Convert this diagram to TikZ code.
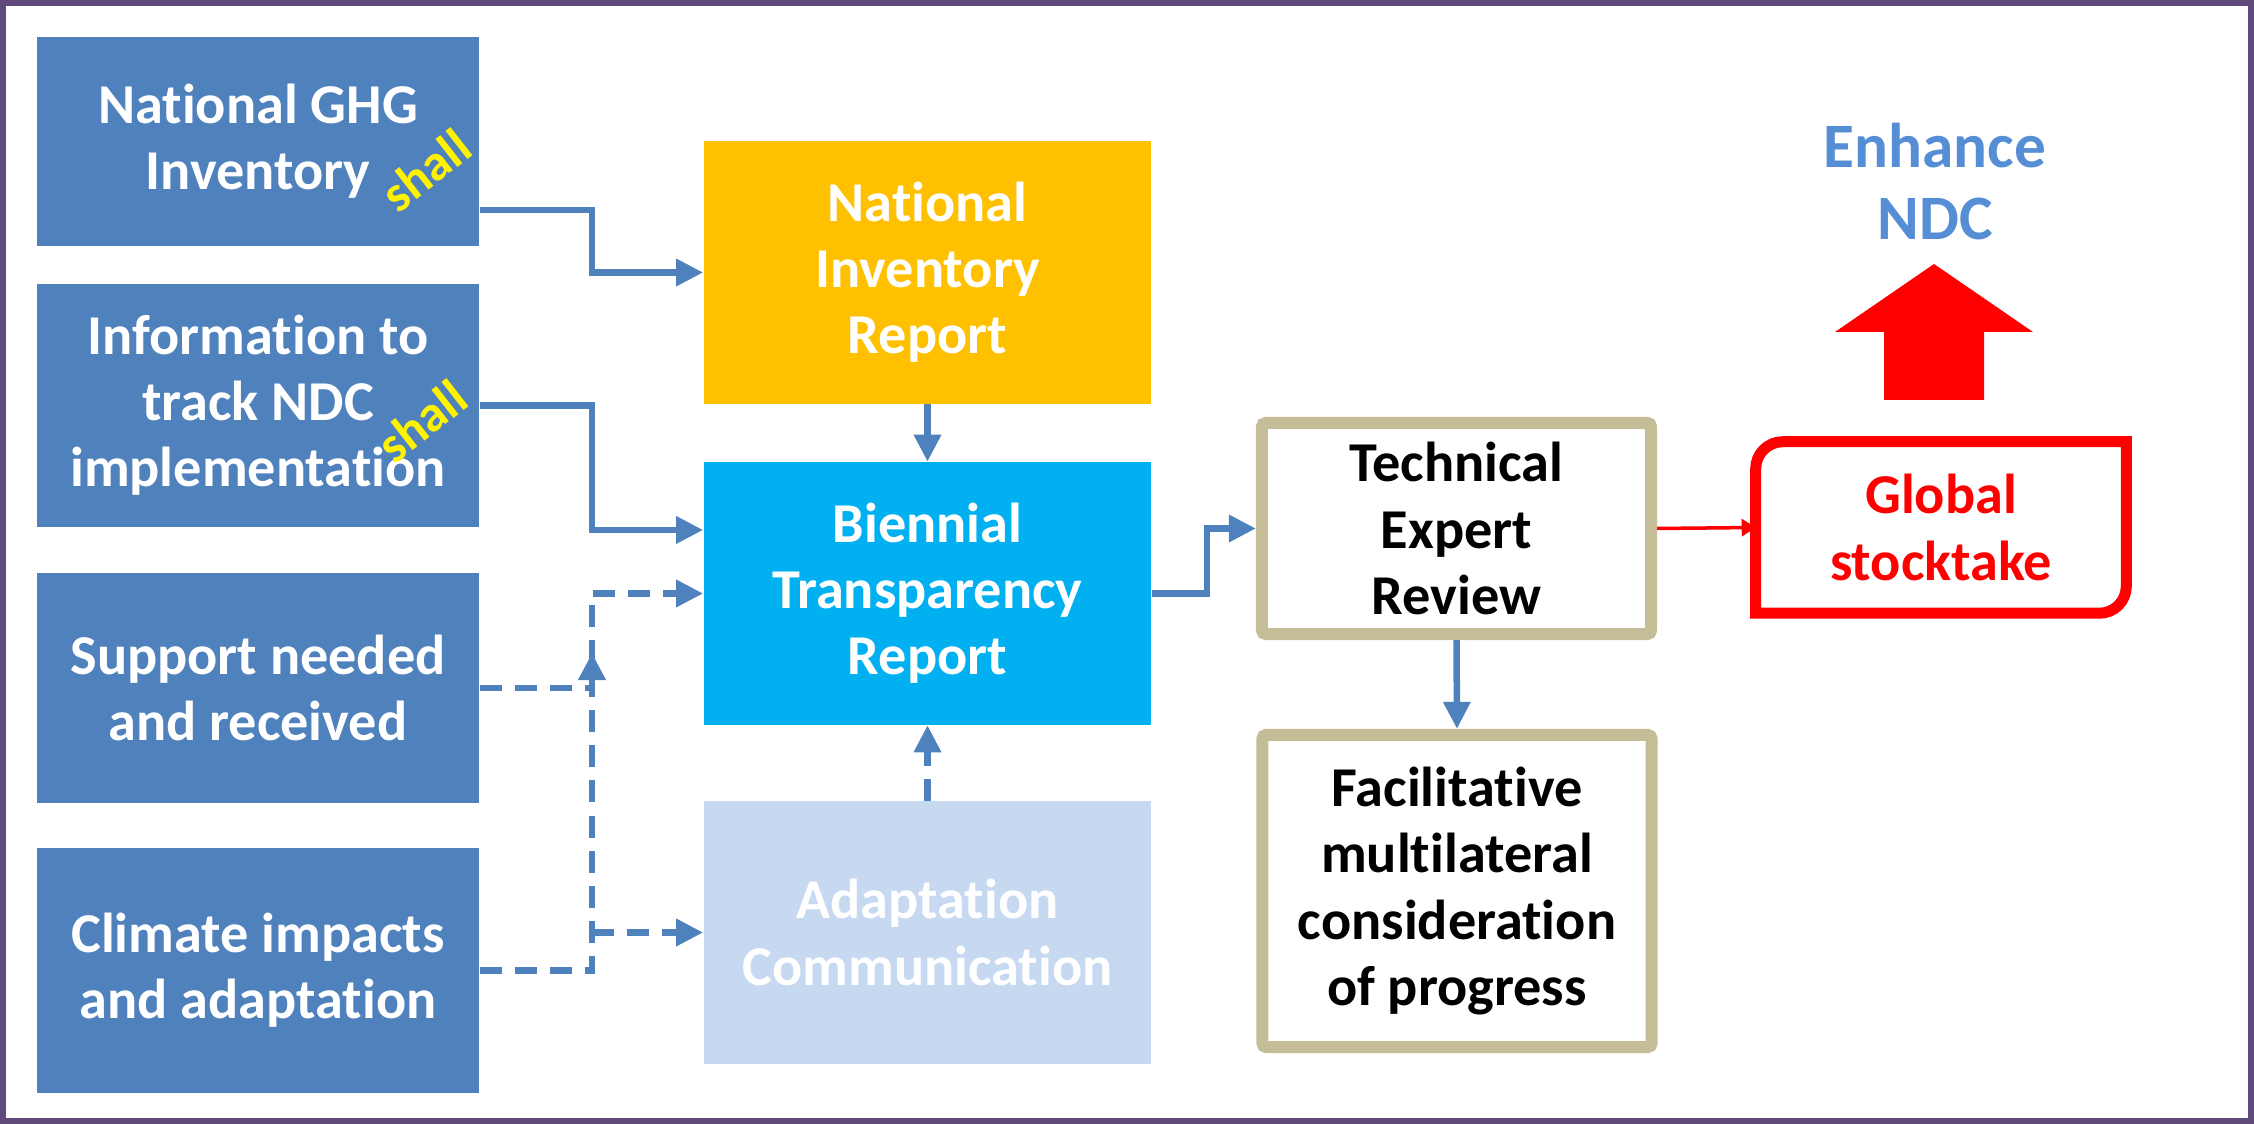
\documentclass[tikz,border=0pt]{standalone}
\usepackage{fontspec}
\setmainfont{Carlito}[RawFeature = {-liga;-clig;-calt;-dlig;-rlig}]
\usepackage{tikz}
\usetikzlibrary{arrows.meta}
\definecolor{msteel}{HTML}{4F81BD}
\definecolor{mgold}{HTML}{FFC000}
\definecolor{msky}{HTML}{00B0F0}
\definecolor{mpale}{HTML}{C6D9F1}
\definecolor{mtan}{HTML}{C4BD97}
\definecolor{mred}{HTML}{FF0000}
\definecolor{mframe}{HTML}{604A7B}
\definecolor{mndc}{HTML}{558ED5}
\tikzset{lbox/.style = {fill = msteel, text = white, minimum width = 4.42cm, inner sep = 0, align = center, font = \bfseries\fontsize{16}{18.8}\selectfont}}
\tikzset{rbox/.style = {text = white, minimum width = 4.47cm, minimum height = 2.62cm, inner sep = 0, align = center, font = \bfseries\fontsize{16}{18.8}\selectfont}}
\tikzset{review/.style = {draw = mtan, line width = 0.12cm, fill = white, minimum width = 3.89cm, inner sep = 0, rounded corners = 0.04cm, align = center, font = \bfseries\fontsize{16}{18.8}\selectfont}}
\tikzset{shallnote/.style = {text = yellow, rotate = 38, inner sep = 0, font = \bfseries\fontsize{14.5}{16}\selectfont}}
\tikzset{flow/.style = {msteel, line width = 0.065cm, -{Triangle[length = 0.27cm, width = 0.26cm]}}}
\tikzset{dflow/.style = {flow, dash pattern = on 0.22cm off 0.13cm}}
\tikzset{gflow/.style = {mred, line width = 0.035cm, -{Triangle[length = 0.14cm, width = 0.17cm]}}}

\begin{document}
\begin{tikzpicture}[x = 0.01cm, y = 0.01cm]
      \useasboundingbox (0, 0) rectangle (2254, 1124);
      \draw [mframe, line width = 0.06cm] (3, 3) rectangle (2251, 1121);

      % inputs
      \node [lbox, minimum height = 2.09cm] (ghg) at (258, 982.5) {National GHG\\Inventory};
      \node [lbox, minimum height = 2.43cm] (track) at (258, 718.5) {Information to\\track NDC\\implementation};
      \node [lbox, minimum height = 2.30cm] (support) at (258, 436) {Support needed\\and received};
      \node [lbox, minimum height = 2.45cm] (climate) at (258, 153.5) {Climate impacts\\and adaptation};
      \node [shallnote] (shall1) at (426, 954) {shall};
      \node [shallnote] (shall2) at (422, 703) {shall};

      % reports
      \node [rbox, fill = mgold] (nir) at (927.5, 851.5) {National\\Inventory\\Report};
      \node [rbox, fill = msky] (btr) at (927.5, 530.5) {Biennial\\Transparency\\Report};
      \node [rbox, fill = mpale] (ac) at (927.5, 191.5) {Adaptation\\Communication};

      % review
      \node [review, minimum height = 2.11cm] (ter) at (1456.5, 595.5) {Technical\\Expert\\Review};
      \node [review, minimum height = 3.12cm] (fmcp) at (1457, 233) {Facilitative\\multilateral\\consideration\\of progress};
      \node [text = mred, minimum width = 3.69cm, minimum height = 1.70cm, inner sep = 0, align = center, font = \bfseries\fontsize{16}{18.8}\selectfont] (gs) at (1941, 596.5) {Global\\stocktake};
      \node [text = mndc, inner sep = 0, align = center, font = \bfseries\fontsize{18}{20.7}\selectfont] (ndc) at (1935, 942.5) {Enhance\\NDC};

      \coordinate (lane) at (592, 0);
      \coordinate (tip) at (592, 471);
      \coordinate (ghgout) at ([yshift = -0.685cm] ghg.east);
      \coordinate (btrin) at ([yshift = 0.635cm] btr.west);

      \draw [flow] (ghgout) -| (lane |- nir.west) -- (nir.west);
      \draw [flow] (track.east) -| (lane |- btrin) -- (btrin);
      \draw [dflow] (climate.east) -| (lane |- btr.west) -- (btr.west);
      \draw [dflow] (lane |- ac.west) -- (ac.west);
      \draw [dflow] (support.east) -| (tip);
      \draw [dflow] (ac.north) -- (btr.south);
      \draw [flow] (nir.south) -- (btr.north);
      \draw [flow] (btr.east) -- ++(55, 0) |- (ter.west);
      \draw [flow] (ter.south) -- (fmcp.north);
      \draw [gflow] (ter.east) -- (gs.west);

      \draw [mred, line width = 0.11cm] (gs.south west) -- ([yshift = -0.27cm] gs.north west) arc [start angle = 180, end angle = 90, radius = 0.27cm] -- (gs.north east) -- ([yshift = 0.27cm] gs.south east) arc [start angle = 0, end angle = -90, radius = 0.27cm] -- cycle;

      \fill [mred] (1884, 724) -- (1884, 792) -- (1835, 792) -- (1934, 860) -- (2033, 792) -- (1984, 792) -- (1984, 724) -- cycle;
    \end{tikzpicture}
\end{document}
